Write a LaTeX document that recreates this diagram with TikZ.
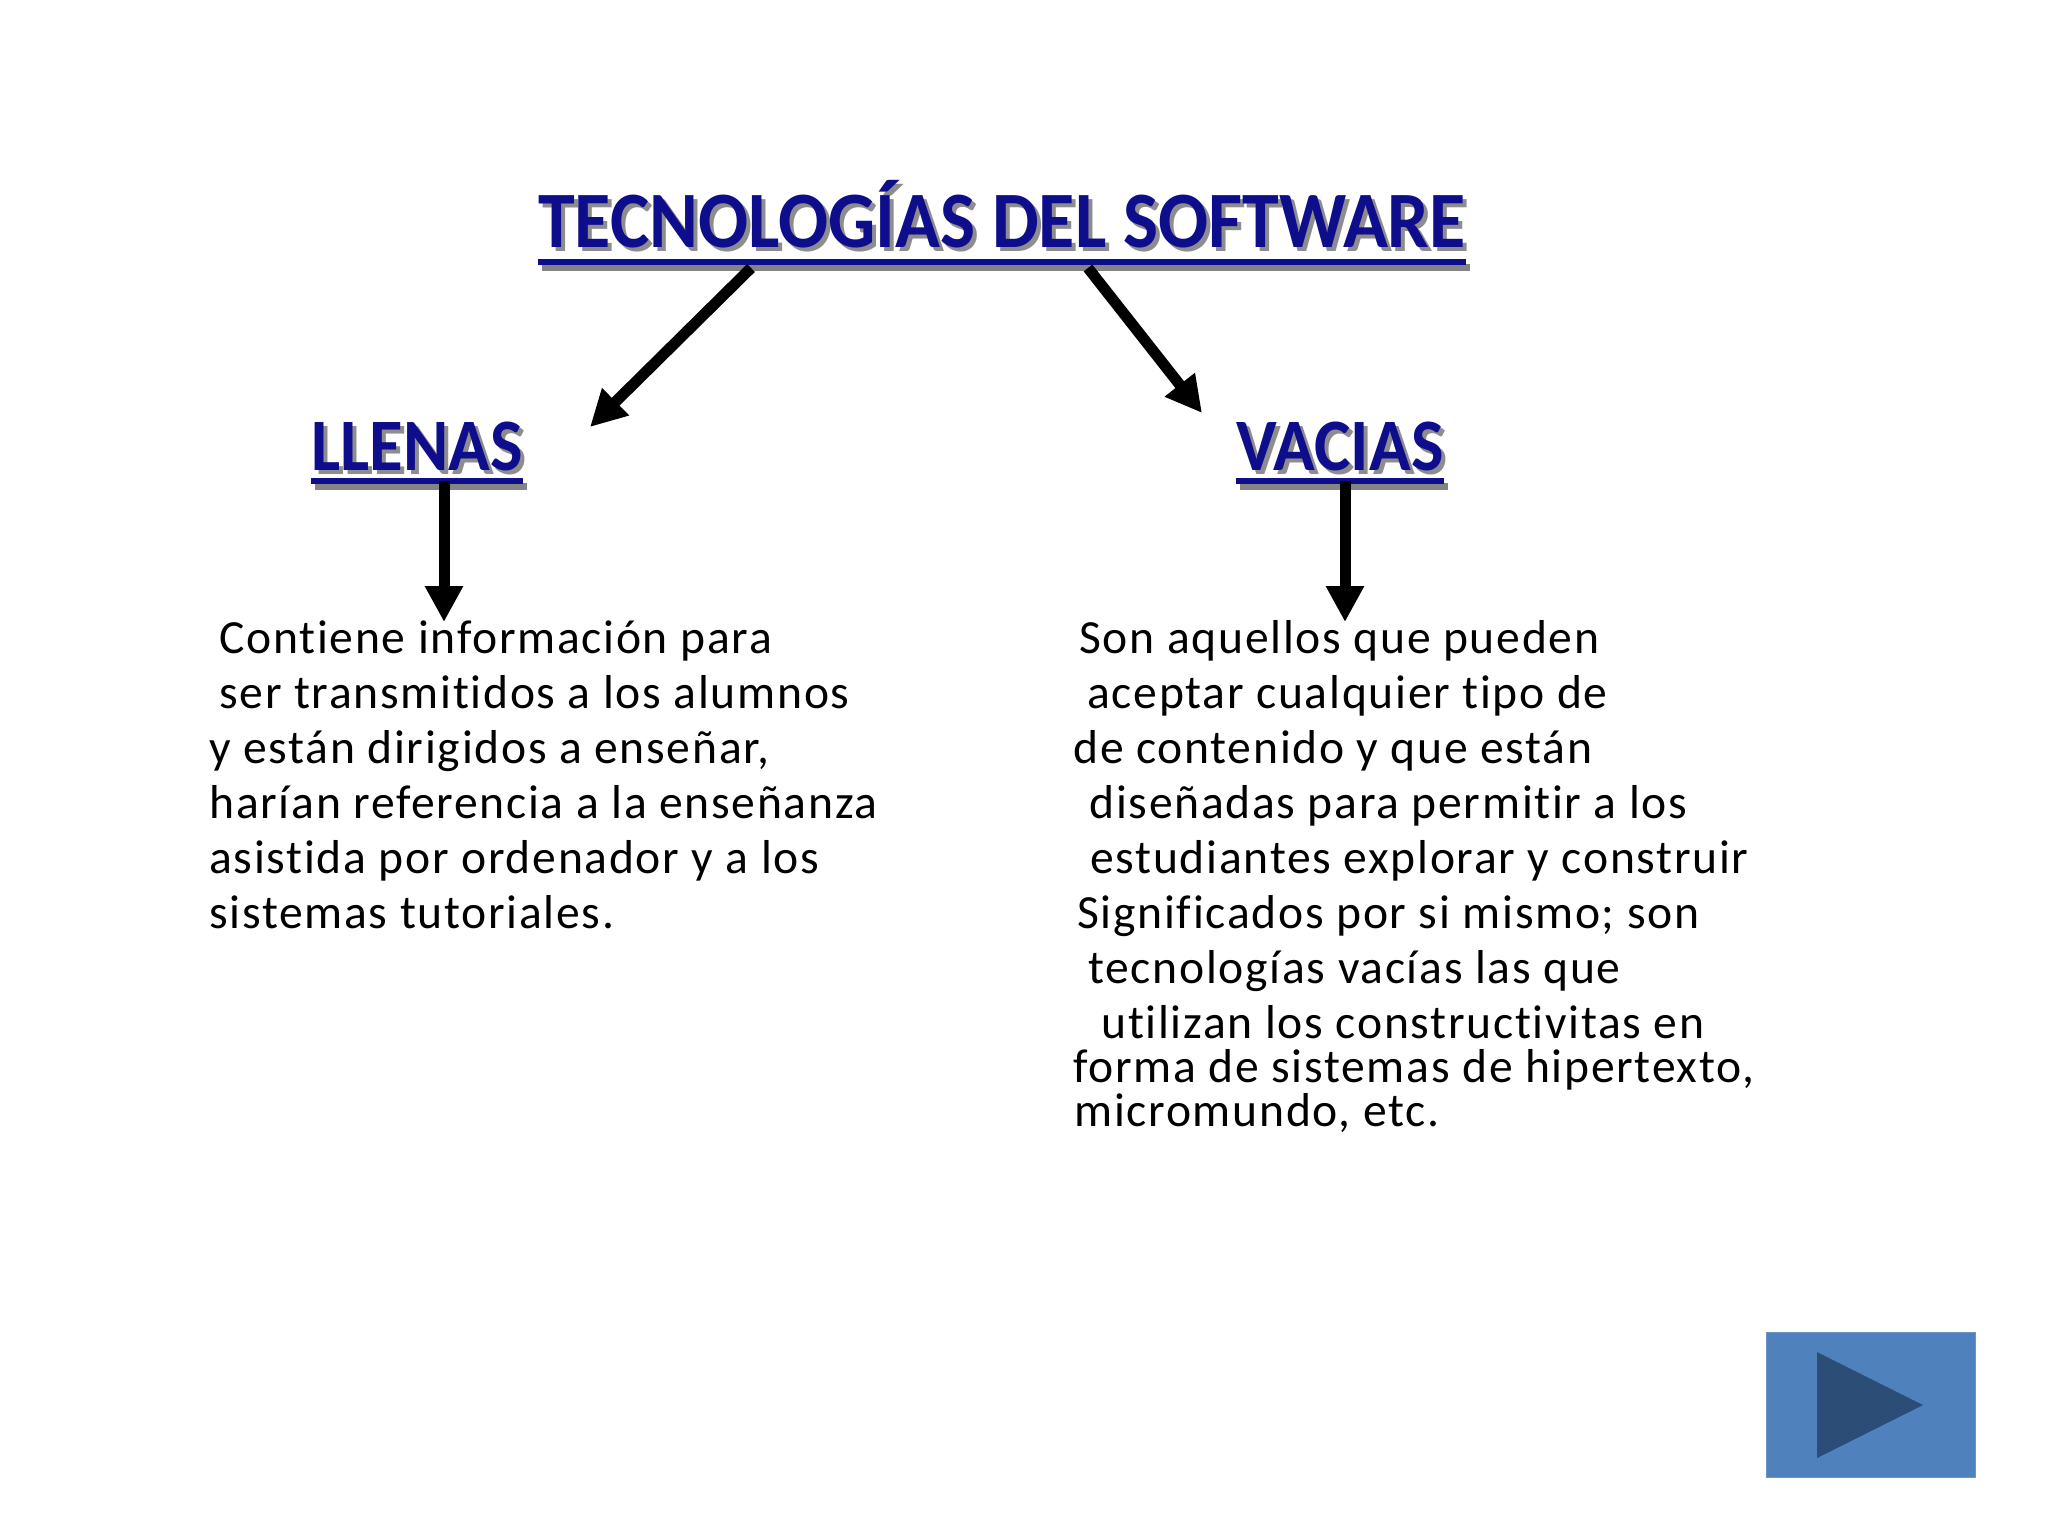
\documentclass[tikz,border=0pt]{standalone}
\usepackage{fontspec}
\setmainfont{Carlito}
\newfontfamily\bodyfont{Carlito}[LetterSpace=3.6,Ligatures=NoCommon]
\usetikzlibrary{arrows.meta}
\definecolor{titleblue}{RGB}{14,14,140}
\definecolor{shadowgray}{RGB}{80,80,80}
\definecolor{btnblue}{RGB}{79,129,189}
\definecolor{btndark}{RGB}{44,77,117}
\begin{document}
\begin{tikzpicture}[x=0.5pt,y=-0.5pt,
  headfont/.style={font=\fontsize{40}{48}\selectfont\bfseries, inner sep=0, anchor=base},
  subfont/.style={font=\fontsize{37}{44}\selectfont\bfseries, inner sep=0, anchor=base},
  head/.style={text=titleblue},
  headshadow/.style={text=shadowgray, opacity=0.65},
  uline/.style={titleblue, line width=2.8pt},
  ushadow/.style={shadowgray, line width=3.5pt, opacity=0.7},
  body/.style={font=\fontsize{23.8}{27.5}\selectfont\bodyfont, inner sep=0, anchor=base west},
  arr/.style={line width=5.5pt, -{Triangle[length=18pt,width=18pt]}},
]
\useasboundingbox (0,0) rectangle (2048,1536);
\fill[white] (0,0) rectangle (2048,1536);

% title
\node[headfont, headshadow] (titlesh) at (1006,251) {\scalebox{0.927}[1]{TECNOLOGÍAS DEL SOFTWARE}};
\node[headfont, head] (title) at (1002,247) {\scalebox{0.927}[1]{TECNOLOGÍAS DEL SOFTWARE}};
\draw[ushadow] ([xshift=2pt,yshift=-10pt]title.base west) -- ([xshift=2pt,yshift=-10pt]title.base east);
\draw[uline] ([yshift=-7.5pt]title.base west) -- ([yshift=-7.5pt]title.base east);

% LLENAS
\node[subfont, headshadow] (llenassh) at (421,474) {\scalebox{0.93}[1]{LLENAS}};
\node[subfont, head] (llenas) at (417,470) {\scalebox{0.93}[1]{LLENAS}};
\draw[ushadow] ([xshift=2pt,yshift=-8pt]llenas.base west) -- ([xshift=2pt,yshift=-8pt]llenas.base east);
\draw[uline] ([yshift=-5.5pt]llenas.base west) -- ([yshift=-5.5pt]llenas.base east);

% VACIAS
\node[subfont, headshadow] (vaciassh) at (1344,474) {\scalebox{0.93}[1]{VACIAS}};
\node[subfont, head] (vacias) at (1340,470) {\scalebox{0.93}[1]{VACIAS}};
\draw[ushadow] ([xshift=2pt,yshift=-8pt]vacias.base west) -- ([xshift=2pt,yshift=-8pt]vacias.base east);
\draw[uline] ([yshift=-5.5pt]vacias.base west) -- ([yshift=-5.5pt]vacias.base east);

% connector end points
\coordinate (tl) at (751,268);
\coordinate (tr) at (1088,268);
\coordinate (tlend) at (590,427);
\coordinate (trend) at (1202,413);
\coordinate (ls) at (444,481);
\coordinate (le) at (444,622);
\coordinate (vs) at (1345,481);
\coordinate (ve) at (1345,622);

\draw[arr] (tl) -- (tlend);
\draw[arr] (tr) -- (trend);
\draw[arr] (ls) -- (le);
\draw[arr] (vs) -- (ve);

% body texts
\node[body] (ltext) at (209,653) {\begin{tabular}[t]{@{}l@{}}
\hspace{5pt}Contiene información para\\
\hspace{5pt}ser transmitidos a los alumnos\\
y están dirigidos a enseñar,\\
harían referencia a la enseñanza\\
asistida por ordenador y a los\\
sistemas tutoriales.
\end{tabular}};

\node[body] (rtext) at (1073,653) {\begin{tabular}[t]{@{}l@{}}
\hspace{3pt}Son aquellos que pueden\\
\hspace{7pt}aceptar cualquier tipo de\\
de contenido y que están\\
\hspace{8pt}diseñadas para permitir a los\\
\hspace{8.5pt}estudiantes explorar y construir\\
\hspace{2pt}Significados por si mismo; son\\
\hspace{7.5pt}tecnologías vacías las que\\
\hspace{14pt}utilizan los constructivitas en\\[-5.5pt]
forma de sistemas de hipertexto,\\[-5.5pt]
\hspace{0.5pt}micromundo, etc.
\end{tabular}};

% next button
\node[fill=btnblue, draw=btnblue!85!white, line width=0.6pt, minimum width=104.5pt, minimum height=72.5pt, inner sep=0, anchor=north west] (btn) at (1766,1332) {};
\fill[btndark] (1817,1352) -- (1923,1405) -- (1817,1458) -- cycle;
\end{tikzpicture}
\end{document}
